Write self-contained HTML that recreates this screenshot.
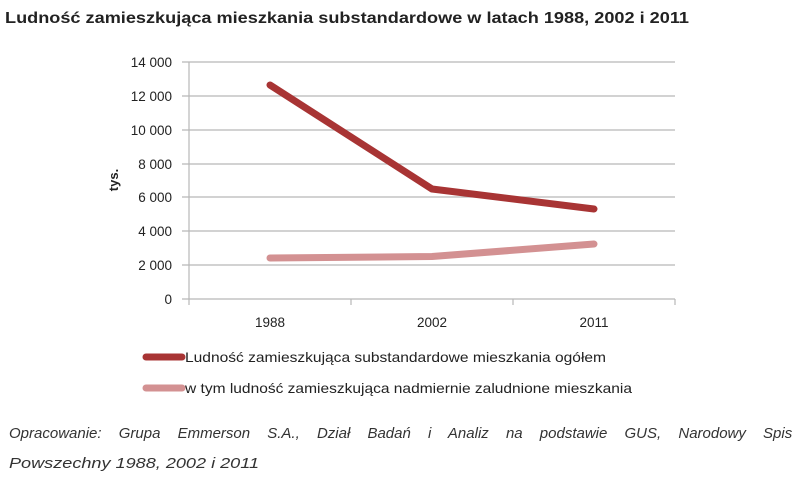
<!DOCTYPE html>
<html><head><meta charset="utf-8"><style>
body{margin:0;background:#fff;width:805px;height:483px;overflow:hidden;font-family:"Liberation Sans",sans-serif}
</style></head><body>
<svg width="805" height="483" xmlns="http://www.w3.org/2000/svg" font-family="Liberation Sans, sans-serif">
<text x="5" y="23" font-size="15.5" font-weight="bold" fill="#222" textLength="684" lengthAdjust="spacingAndGlyphs">Ludność zamieszkująca mieszkania substandardowe w latach 1988, 2002 i 2011</text>
<g stroke="#b8b8b8" stroke-width="1.2">
<line x1="182" y1="62" x2="675" y2="62"/>
<line x1="182" y1="96" x2="675" y2="96"/>
<line x1="182" y1="130" x2="675" y2="130"/>
<line x1="182" y1="164" x2="675" y2="164"/>
<line x1="182" y1="197" x2="675" y2="197"/>
<line x1="182" y1="231" x2="675" y2="231"/>
<line x1="182" y1="265" x2="675" y2="265"/>
<line x1="182" y1="299" x2="675" y2="299"/>
<line x1="189" y1="62" x2="189" y2="305"/>
<line x1="351" y1="299" x2="351" y2="305"/>
<line x1="513" y1="299" x2="513" y2="305"/>
<line x1="675" y1="299" x2="675" y2="305"/>
</g>
<g font-size="13.5" fill="#222" text-anchor="end">
<text x="172" y="67">14 000</text><text x="172" y="101">12 000</text><text x="172" y="135">10 000</text>
<text x="172" y="169">8 000</text><text x="172" y="202">6 000</text><text x="172" y="236">4 000</text>
<text x="172" y="270">2 000</text><text x="172" y="304">0</text>
</g>
<g font-size="13.5" fill="#222" text-anchor="middle">
<text x="270" y="327">1988</text><text x="432" y="327">2002</text><text x="594" y="327">2011</text>
</g>
<text transform="translate(118,180) rotate(-90)" font-size="13" font-weight="bold" text-anchor="middle" fill="#222">tys.</text>
<polyline points="270,85 432,189 594,209" fill="none" stroke="#a83434" stroke-width="7" stroke-linecap="round" stroke-linejoin="round"/>
<polyline points="270,258 432,256.5 594,244" fill="none" stroke="#d39192" stroke-width="7" stroke-linecap="round" stroke-linejoin="round"/>
<line x1="146" y1="357" x2="182" y2="357" stroke="#a83434" stroke-width="7" stroke-linecap="round"/>
<line x1="146" y1="388" x2="182" y2="388" stroke="#d39192" stroke-width="7" stroke-linecap="round"/>
<text x="185" y="362" font-size="14" fill="#222" textLength="421" lengthAdjust="spacingAndGlyphs">Ludność zamieszkująca substandardowe mieszkania ogółem</text>
<text x="185" y="393" font-size="14" fill="#222" textLength="447" lengthAdjust="spacingAndGlyphs">w tym ludność zamieszkująca nadmiernie zaludnione mieszkania</text>
<text x="9" y="438" font-size="15" font-style="italic" fill="#333" word-spacing="13">Opracowanie: Grupa Emmerson S.A., Dział Badań i Analiz na podstawie GUS, Narodowy Spis</text>
<text x="9" y="468" font-size="15" font-style="italic" fill="#333" textLength="250" lengthAdjust="spacingAndGlyphs">Powszechny 1988, 2002 i 2011</text>
</svg>
</body></html>
